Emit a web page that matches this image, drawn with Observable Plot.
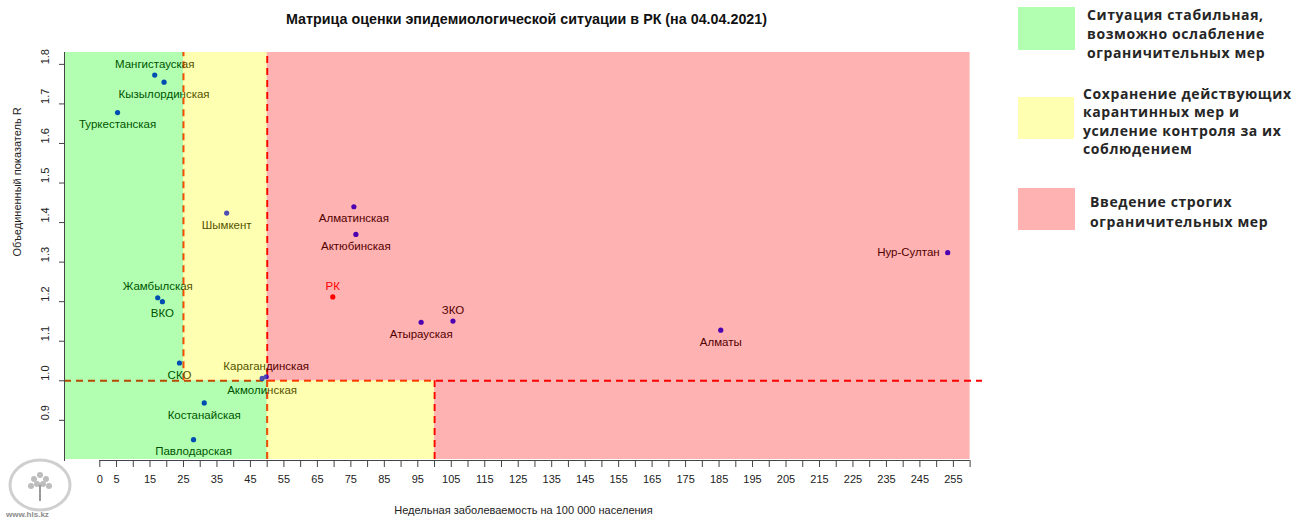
<!DOCTYPE html>
<html>
<head>
<meta charset="utf-8">
<script src="https://cdn.jsdelivr.net/npm/d3@7"></script>
<script src="https://cdn.jsdelivr.net/npm/@observablehq/plot@0.6"></script>
<style>
  html, body { margin: 0; padding: 0; background: #fff; }
  #wrap { position: relative; width: 1297px; height: 519px; overflow: hidden; font-family: "Liberation Sans", Arial, sans-serif; }
  #chart { position: absolute; left: 0; top: 0; }
  #title { position: absolute; left: 0; width: 1053px; top: 11px; text-align: center; font: bold 14.3px "Liberation Sans", Arial, sans-serif; color: #111; }
  .leg-box { position: absolute; }
  .leg-text { position: absolute; font-family: "Open Sans", sans-serif; font-weight: 700; font-size: 14px; color: #262626; letter-spacing: 0.6px; white-space: nowrap; }
  #logo { position: absolute; left: 0; top: 455px; }
</style>
</head>
<body>
<div id="wrap">
  <div id="chart"></div>
  <div id="title"></div>
  <div id="legend"></div>
  <svg id="logo" width="100" height="64"></svg>
</div>
<script>
// ---------- data ----------
const chartTitle = "Матрица оценки эпидемиологической ситуации в РК (на 04.04.2021)";
const xLabel = "Недельная заболеваемость на 100 000 населения";
const yLabel = "Объединенный показатель R";

const regions = ["Мангистауская", "Кызылординская", "Туркестанская", "Шымкент", "Алматинская", "Актюбинская", "РК", "Атырауская", "ЗКО", "Алматы", "Нур-Султан", "Жамбылская", "ВКО", "СКО", "Карагандинская", "Акмолинская", "Костанайская", "Павлодарская"];
const incidence = [16.4, 19.2, 5.3, 37.9, 75.9, 76.5, 69.6, 96.0, 105.5, 185.5, 253.3, 17.3, 18.7, 23.8, 49.7, 48.5, 31.2, 28.0];
const rValue = [1.773, 1.755, 1.678, 1.424, 1.440, 1.370, 1.212, 1.148, 1.151, 1.128, 1.324, 1.210, 1.200, 1.045, 1.010, 1.006, 0.944, 0.851];
const labelPos = ["above", "below", "below", "below", "below", "below", "above", "below", "above", "below", "left", "above", "below", "below", "above", "below", "below", "below"];

const xTicks = d3.range(0, 261, 5);
const xTickLabels = [0, 5, 15, 25, 35, 45, 55, 65, 75, 85, 95, 105, 115, 125, 135, 145, 155, 165, 175, 185, 195, 205, 215, 225, 235, 245, 255];
const yTicks = [0.9, 1.0, 1.1, 1.2, 1.3, 1.4, 1.5, 1.6, 1.7, 1.8];

const xDomain = [-10.25, 263.7];
const yDomain = [0.801, 1.830];
const zoneRight = 260;
const rThreshold = 1.0;

// zones: [x1, x2, upper half?, colour]
const zoneX1 = [xDomain[0], 25, 50, xDomain[0], 50, 100];
const zoneX2 = [25, 50, zoneRight, 50, 100, zoneRight];
const zoneUpper = [true, true, true, false, false, false];
const zoneFill = ["#00ff00", "#ffff00", "#ff0000", "#00ff00", "#ffff00", "#ff0000"];

// dashed threshold lines: x, from, to
const vLineX = [25, 50, 100];
const vLineFrom = [rThreshold, yDomain[0], yDomain[0]];
const vLineTo = [yDomain[1], yDomain[1], rThreshold];

const legendText = [
  ["Ситуация стабильная,", "возможно ослабление", "ограничительных мер"],
  ["Сохранение действующих", "карантинных мер и", "усиление контроля за их", "соблюдением"],
  ["Введение строгих", "ограничительных мер"]
];
const legendFill = ["#b2ffb2", "#ffffb2", "#ffb2b2"];

// ---------- build ----------
const pts = regions.map((name, i) => ({name, x: incidence[i], y: rValue[i], pos: labelPos[i], rk: name === "РК"}));
const zones = zoneX1.map((x1, i) => ({x1, x2: zoneX2[i], y1: zoneUpper[i] ? rThreshold : yDomain[0], y2: zoneUpper[i] ? yDomain[1] : rThreshold, fill: zoneFill[i]}));
const vLines = vLineX.map((x, i) => ({x, y1: vLineFrom[i], y2: vLineTo[i]}));
const labelSet = new Set(xTickLabels);

const textOpts = {fontSize: 11.5, fontFamily: "Liberation Sans, Arial, sans-serif"};
const axisText = {fontSize: 11, fontFamily: "Liberation Sans, Arial, sans-serif"};

const plot = Plot.plot({
  width: 1297,
  height: 519,
  marginLeft: 64,
  marginRight: 315,
  marginTop: 52,
  marginBottom: 59,
  x: {domain: xDomain, range: [65, 982]},
  y: {domain: yDomain, range: [459, 52]},
  style: {fontFamily: "Liberation Sans, Arial, sans-serif", background: "transparent"},
  marks: [
    Plot.ruleY([rThreshold], {stroke: "#ff0000", strokeWidth: 2, strokeDasharray: "7,5"}),
    Plot.ruleX(vLines, {x: "x", y1: "y1", y2: "y2", stroke: "#ff0000", strokeWidth: 2, strokeDasharray: "7,5"}),
    Plot.dot(pts.filter(d => !d.rk), {x: "x", y: "y", r: 2.6, fill: "#0000ff", stroke: null}),
    Plot.dot(pts.filter(d => d.rk), {x: "x", y: "y", r: 2.6, fill: "#ff0000", stroke: null}),
    Plot.text(pts.filter(d => d.pos === "above" && !d.rk), {x: "x", y: "y", text: "name", dy: -11, fill: "#000", ...textOpts}),
    Plot.text(pts.filter(d => d.rk), {x: "x", y: "y", text: "name", dy: -11, fill: "#ff0000", ...textOpts}),
    Plot.text(pts.filter(d => d.pos === "below"), {x: "x", y: "y", text: "name", dy: 12, fill: "#000", ...textOpts}),
    Plot.text(pts.filter(d => d.pos === "left"), {x: "x", y: "y", text: "name", dx: -8, textAnchor: "end", fill: "#000", ...textOpts}),
    Plot.rect(zones, {x1: "x1", x2: "x2", y1: "y1", y2: "y2", fill: "fill", fillOpacity: 0.3}),
    // axes
    Plot.frame({anchor: "left", stroke: "#444"}),
    Plot.ruleY([yDomain[0]], {x1: 0, x2: zoneRight, dy: 1, stroke: "#444"}),
    Plot.axisX({ticks: xTicks, tickFormat: d => labelSet.has(d) ? String(d) : "", tickSize: 7, tickPadding: 8, fontSize: 11, label: null, stroke: "#444", fill: "#222"}),
    Plot.axisY({ticks: yTicks, tickFormat: () => "", tickSize: 5, label: null, stroke: "#444"}),
    Plot.text(yTicks, {y: d => d, text: d => d.toFixed(1), frameAnchor: "left", dx: -19, rotate: -90, fill: "#222", ...axisText}),
    Plot.text([xLabel], {text: d => d, frameAnchor: "bottom", dy: 53, fill: "#222", ...axisText}),
    Plot.text([yLabel], {text: d => d, frameAnchor: "left", dx: -47, rotate: -90, fill: "#222", ...axisText})
  ]
});
document.getElementById("chart").appendChild(plot);
document.getElementById("title").textContent = chartTitle;

// legend
const legendBoxes = [[1018, 7, 57, 43], [1018, 97, 56, 42], [1018, 188, 57, 42]];
const legendTextPos = [[1087, 5, 19], [1083, 85, 18.3], [1090, 192, 19.5]];
const legend = document.getElementById("legend");
legendText.forEach((lines, i) => {
  const b = document.createElement("div");
  b.className = "leg-box";
  const [bx, by, bw, bh] = legendBoxes[i];
  Object.assign(b.style, {left: bx + "px", top: by + "px", width: bw + "px", height: bh + "px", background: legendFill[i]});
  legend.appendChild(b);
  const t = document.createElement("div");
  t.className = "leg-text";
  const [tx, ty, lh] = legendTextPos[i];
  Object.assign(t.style, {left: tx + "px", top: ty + "px", lineHeight: lh + "px"});
  t.innerHTML = lines.join("<br>");
  legend.appendChild(t);
});

// logo sketch (light grey emblem)
const logo = d3.select("#logo");
logo.append("ellipse").attr("cx", 40).attr("cy", 30).attr("rx", 30).attr("ry", 25).attr("fill", "none").attr("stroke", "#cfcfcf").attr("stroke-width", 3);
[[34, 24], [40, 20], [46, 24], [31, 31], [49, 31], [37, 29], [43, 29]].forEach(([cx, cy]) =>
  logo.append("circle").attr("cx", cx).attr("cy", cy).attr("r", 3).attr("fill", "#bdbdbd"));
logo.append("line").attr("x1", 40).attr("y1", 30).attr("x2", 40).attr("y2", 46).attr("stroke", "#9a9a9a").attr("stroke-width", 2);
logo.append("text").attr("x", 6).attr("y", 62).attr("font-size", 8).attr("font-weight", "bold").attr("fill", "#8a8a8a").text("www.hls.kz");
</script>
</body>
</html>
